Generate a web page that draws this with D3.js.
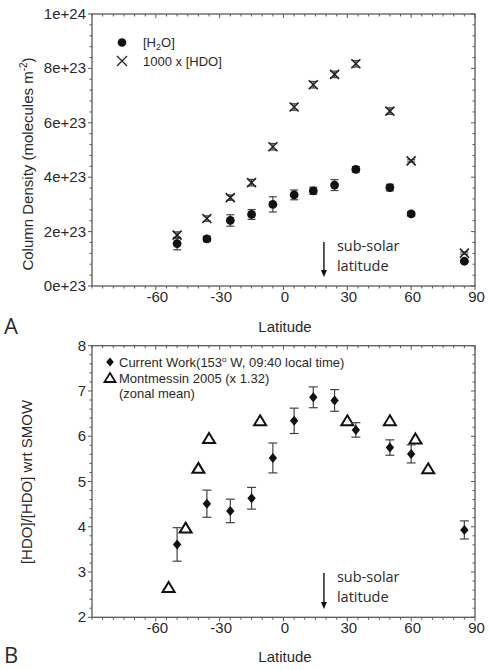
<!DOCTYPE html>
<html><head><meta charset="utf-8">
<script src="https://cdn.jsdelivr.net/npm/d3@7"></script>
<style>
body{margin:0;background:#fff;}
svg text{font-family:"Liberation Sans",Arial,sans-serif;fill:#2a2a2a;}
</style></head>
<body><svg id="c" width="489" height="670"></svg>
<script>
// ---- data ----
const latitudes = [-50,-36,-25,-15,-5,5,14,24,34,50,60,85];
const h2o =      [1.56,1.73,2.41,2.63,3.00,3.35,3.50,3.71,4.29,3.62,2.65,0.91]; // x1e23
const h2oErr =   [0.23,0.10,0.21,0.18,0.28,0.18,0.13,0.20,0.10,0.12,0.08,0.05];
const hdo1000 =  [1.87,2.48,3.25,3.80,5.12,6.58,7.40,7.78,8.17,6.43,4.60,1.21]; // x1e23
const hdoErr =   [0.12,0.10,0.10,0.12,0.12,0.12,0.12,0.12,0.12,0.12,0.04,0.04];
const ratio =    [3.61,4.51,4.35,4.63,5.52,6.34,6.86,6.79,6.14,5.75,5.61,3.93];
const ratioErr = [0.37,0.30,0.26,0.24,0.33,0.28,0.23,0.24,0.16,0.17,0.20,0.20];
const montLat =  [-54,-46,-40,-35,-11,30,50,62,68];
const mont =     [2.66,3.97,5.29,5.95,6.34,6.34,6.34,5.94,5.28];
const xTicks = [-60,-30,0,30,60,90];
const yTicksA = [0,2,4,6,8,10];
const yTickLabelsA = ["0e+23","2e+23","4e+23","6e+23","8e+23","1e+24"];
const yTicksB = [2,3,4,5,6,7,8];
const subSolarLat = 19;

const svg = d3.select("#c");
const frameCol = "#5a5a5a";

function panel(g, x, y, yMajor, yMinorStep, yLabels){
  const [x0,x1] = x.range(), [y0,y1] = y.range(); // y0 bottom
  g.append("rect").attr("x",x0).attr("y",y1).attr("width",x1-x0).attr("height",y0-y1)
    .attr("fill","none").attr("stroke",frameCol).attr("stroke-width",1.3);
  const t = g.append("g").attr("stroke",frameCol).attr("stroke-width",1);
  d3.range(-90,91,5).forEach(v=>{
    const px = x(v), major = xTicks.includes(v);
    const L = major?4:2.5;
    t.append("line").attr("x1",px).attr("x2",px).attr("y1",y0).attr("y2",y0+L);
    t.append("line").attr("x1",px).attr("x2",px).attr("y1",y1).attr("y2",y1+L);
  });
  const [d0,d1] = y.domain();
  d3.range(d0, d1+1e-9, yMinorStep).forEach(v=>{
    const py = y(v), major = yMajor.some(m=>Math.abs(m-v)<1e-6);
    const L = major?4:2.5;
    t.append("line").attr("x1",x0-L).attr("x2",x0).attr("y1",py).attr("y2",py);
    t.append("line").attr("x1",x1-L).attr("x2",x1).attr("y1",py).attr("y2",py);
  });
  xTicks.forEach(v=>{
    g.append("text").attr("x",x(v)+1.5).attr("y",y0+16).attr("text-anchor","middle")
      .attr("font-size",15).text(v);
  });
  yMajor.forEach((v,i)=>{
    g.append("text").attr("x",x0-6).attr("y",y(v)+5).attr("text-anchor","end")
      .attr("font-size",15).text(yLabels?yLabels[i]:v);
  });
}

// ---- Panel A ----
const xA = d3.scaleLinear().domain([-90,90]).range([92,475]);
const yA = d3.scaleLinear().domain([0,10]).range([286,14]);
const gA = svg.append("g");
panel(gA, xA, yA, yTicksA, 0.4, yTickLabelsA);

const errCol = "#444";
function errbar(g, x, y, lat, v, e, cap){
  g.append("line").attr("x1",x(lat)).attr("x2",x(lat)).attr("y1",y(v-e)).attr("y2",y(v+e))
    .attr("stroke",errCol).attr("stroke-width",1.2);
  [v-e,v+e].forEach(w=>g.append("line").attr("x1",x(lat)-cap).attr("x2",x(lat)+cap)
    .attr("y1",y(w)).attr("y2",y(w)).attr("stroke",errCol).attr("stroke-width",1.2));
}
latitudes.forEach((lat,i)=>{
  errbar(gA,xA,yA,lat,h2o[i],h2oErr[i],4);
  gA.append("circle").attr("cx",xA(lat)).attr("cy",yA(h2o[i])).attr("r",4.4).attr("fill","#111");
  errbar(gA,xA,yA,lat,hdo1000[i],hdoErr[i],4);
  gA.append("path").attr("transform",`translate(${xA(lat)},${yA(hdo1000[i])})`)
    .attr("d","M-4.5,-4.5L4.5,4.5M-4.5,4.5L4.5,-4.5").attr("stroke","#222").attr("stroke-width",1.6);
});
// legend A
gA.append("circle").attr("cx",122).attr("cy",42.5).attr("r",4.3).attr("fill","#111");
const tH = gA.append("text").attr("x",143).attr("y",47).attr("font-size",13);
tH.append("tspan").text("[H");
tH.append("tspan").attr("font-size",9).attr("dy",3).text("2");
tH.append("tspan").attr("dy",-3).text("O]");
gA.append("path").attr("transform","translate(122,61)")
  .attr("d","M-5,-5L5,5M-5,5L5,-5").attr("stroke","#222").attr("stroke-width",1.3);
gA.append("text").attr("x",143).attr("y",65.5).attr("font-size",13).text("1000 x [HDO]");
// titles A
const ytA = gA.append("text").attr("transform","translate(33,164) rotate(-90)")
  .attr("text-anchor","middle").attr("font-size",15);
ytA.append("tspan").text("Column Density (molecules m");
ytA.append("tspan").attr("font-size",10).attr("dy",-6).text("-2");
ytA.append("tspan").attr("dy",6).text(")");
gA.append("text").attr("x",285).attr("y",332).attr("text-anchor","middle").attr("font-size",15).text("Latitude");
gA.append("text").attr("x",4).attr("y",334).attr("font-size",22)
  .style("font-family","'Open Sans',sans-serif").text("A");

function subsolar(g, x, yTop, yBot, t1, t2){
  const px = x(subSolarLat);
  g.append("line").attr("x1",px).attr("x2",px).attr("y1",yTop).attr("y2",yBot-6)
    .attr("stroke","#111").attr("stroke-width",1.4);
  g.append("path").attr("d",`M${px-3},${yBot-7}L${px+3},${yBot-7}L${px},${yBot}Z`).attr("fill","#111");
  g.append("text").attr("x",px+13).attr("y",t1).attr("font-size",14.5)
    .style("font-family","'Open Sans',sans-serif").text("sub-solar");
  g.append("text").attr("x",px+13).attr("y",t2).attr("font-size",14.5)
    .style("font-family","'Open Sans',sans-serif").text("latitude");
}
subsolar(gA, xA, 242, 277, 251, 271);

// ---- Panel B ----
const xB = d3.scaleLinear().domain([-90,90]).range([92,475]);
const yB = d3.scaleLinear().domain([2,8]).range([617.3,345.7]);
const gB = svg.append("g");
panel(gB, xB, yB, yTicksB, 0.2, null);

montLat.forEach((lat,i)=>{
  gB.append("path").attr("transform",`translate(${xB(lat)},${yB(mont[i])})`)
    .attr("d","M0,-5.5L6,4.5L-6,4.5Z").attr("fill","none").attr("stroke","#111").attr("stroke-width",2);
});
latitudes.forEach((lat,i)=>{
  errbar(gB,xB,yB,lat,ratio[i],ratioErr[i],4.5);
  gB.append("path").attr("transform",`translate(${xB(lat)},${yB(ratio[i])})`)
    .attr("d","M0,-5L4.2,0L0,5L-4.2,0Z").attr("fill","#111");
});
// legend B
gB.append("path").attr("transform","translate(110,362)").attr("d","M0,-4.5L3.8,0L0,4.5L-3.8,0Z").attr("fill","#111");
const lt = gB.append("text").attr("x",119).attr("y",366.5).attr("font-size",13);
lt.append("tspan").text("Current Work(153");
lt.append("tspan").attr("font-size",8).attr("dy",-5).text("o");
lt.append("tspan").attr("dy",5).text(" W, 09:40 local time)");
gB.append("path").attr("transform","translate(110,378)")
  .attr("d","M0,-5L5.5,4L-5.5,4Z").attr("fill","none").attr("stroke","#111").attr("stroke-width",1.8);
gB.append("text").attr("x",119).attr("y",382.5).attr("font-size",13).text("Montmessin 2005 (x 1.32)");
gB.append("text").attr("x",119).attr("y",398).attr("font-size",13).text("(zonal mean)");
gB.append("text").attr("transform","translate(32,482) rotate(-90)").attr("text-anchor","middle")
  .attr("font-size",15).text("[HDO]/[HDO] wrt SMOW");
gB.append("text").attr("x",285).attr("y",662).attr("text-anchor","middle").attr("font-size",15).text("Latitude");
gB.append("text").attr("x",4).attr("y",663).attr("font-size",22)
  .style("font-family","'Open Sans',sans-serif").text("B");
subsolar(gB, xB, 573, 609, 582, 602);
</script></body></html>
